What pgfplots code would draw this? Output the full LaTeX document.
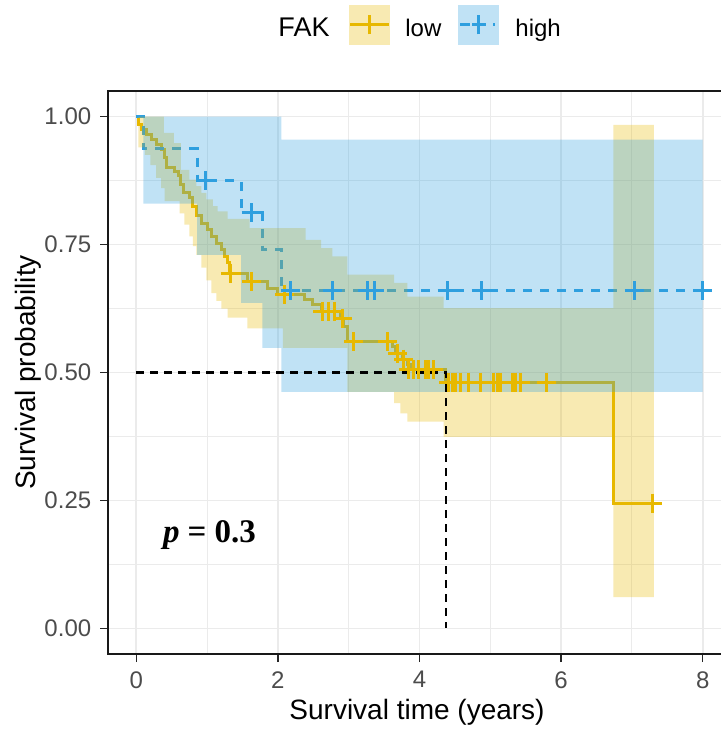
\documentclass[border=0pt]{standalone}
\usepackage{fontspec}
\setmainfont{Liberation Sans}
\newfontfamily\pfont{Liberation Serif}
\usepackage{pgfplots}
\pgfplotsset{compat=1.18}
\usepgfplotslibrary{fillbetween}
\definecolor{fakyellow}{HTML}{E7B800}
\definecolor{fakblue}{HTML}{2E9FDF}

\begin{document}
\begin{tikzpicture}
\begin{axis}[
  name=ax, at={(0,0)}, anchor=south west, set layers,
  scale only axis, width=311.5pt, height=281.5pt,
  xmin=-0.4, xmax=8.4, ymin=-0.05, ymax=1.05,
  xtick={0,2,4,6,8}, minor xtick={1,3,5,7},
  ytick={0,0.25,0.5,0.75,1},
  yticklabels={0.00,0.25,0.50,0.75,1.00},
  minor ytick={0.125,0.375,0.625,0.875},
  grid=both,
  major grid style={draw=black!8, line width=0.9pt},
  minor grid style={draw=black!8, line width=0.45pt},
  axis line style={black!90, line width=0.8pt},
  tick align=outside, tick pos=left,
  major tick length=4pt, minor tick length=0pt,
  tick style={black!85, line width=0.8pt},
  /pgf/number format/assume math mode=true,
  ticklabel style={font=\fontsize{12}{14}\selectfont, text=black!70},
  xticklabel style={anchor=north, inner sep=0pt, yshift=-4.5pt},
  yticklabel style={anchor=east, inner sep=0pt, xshift=-4.2pt},
  xlabel={Survival time (years)},
  ylabel={Survival probability},
  label style={font=\fontsize{14}{16}\selectfont},
  xlabel style={at={(axis description cs:0.496,-0.1172)}, anchor=base},
  ylabel style={at={(axis description cs:-0.1164,0.5)}, anchor=base},
]
% survival curves (under the bands, as in the original)
\addplot[on layer=pre main, fakyellow, line width=1.5pt, const plot] coordinates {
  (0,1) (0.03,0.985) (0.07,0.975) (0.14,0.965) (0.21,0.955) (0.28,0.945)
  (0.35,0.935) (0.40,0.92) (0.42,0.90) (0.54,0.893) (0.59,0.885)
  (0.63,0.867) (0.66,0.851) (0.75,0.841) (0.80,0.825) (0.85,0.806)
  (0.92,0.792) (1.01,0.779) (1.06,0.766) (1.13,0.753) (1.20,0.740)
  (1.24,0.727) (1.29,0.714) (1.31,0.694) (1.57,0.678) (1.85,0.665)
  (2.0,0.652) (2.37,0.642) (2.49,0.632) (2.61,0.62) (2.89,0.605)
  (2.93,0.59) (2.98,0.56) (3.62,0.55) (3.66,0.537) (3.76,0.526)
  (3.83,0.515) (3.87,0.505) (4.37,0.481) (6.74,0.245) (7.29,0.245)};
\addplot[on layer=pre main, fakblue, line width=1.5pt, const plot,
  dash pattern=on 4.5pt off 4pt] coordinates {
  (0,1) (0.1,0.9375) (0.86,0.875) (1.48,0.8125) (1.78,0.74) (2.05,0.66)
  (8.0,0.66)};
% confidence bands
\addplot[name path=yu, draw=none, const plot, forget plot] coordinates {
  (0,1) (0.39,0.968) (0.53,0.948) (0.63,0.896) (0.75,0.877) (0.85,0.864)
  (0.92,0.851) (0.99,0.838) (1.08,0.825) (1.15,0.815) (1.29,0.80)
  (1.6,0.782) (2.39,0.759) (2.61,0.743) (2.77,0.727) (2.98,0.691)
  (3.64,0.675) (3.83,0.648) (4.34,0.626) (6.74,0.984) (7.31,0.984)};
\addplot[name path=yl, draw=none, const plot, forget plot] coordinates {
  (0,1) (0.03,0.94) (0.12,0.925) (0.2,0.905) (0.28,0.88) (0.35,0.86)
  (0.40,0.835) (0.61,0.811) (0.68,0.789) (0.75,0.766) (0.80,0.747)
  (0.85,0.73) (0.92,0.705) (0.99,0.68) (1.06,0.655) (1.13,0.64)
  (1.2,0.625) (1.29,0.607) (1.57,0.586) (2.07,0.548) (2.98,0.462)
  (3.64,0.44) (3.73,0.42) (3.83,0.404) (4.34,0.374) (6.74,0.061)
  (7.31,0.061)};
\addplot[fill=fakyellow, fill opacity=0.3, draw=none] fill between[of=yu and yl];
\addplot[name path=bu, draw=none, const plot, forget plot] coordinates {
  (0,1) (2.05,0.955) (8.0,0.955)};
\addplot[name path=bl, draw=none, const plot, forget plot] coordinates {
  (0,1) (0.1,0.83) (0.86,0.73) (1.48,0.636) (1.78,0.548) (2.05,0.462)
  (8.0,0.462)};
\addplot[fill=fakblue, fill opacity=0.3, draw=none] fill between[of=bu and bl];
% median survival
\addplot[black, line width=1.05pt, dash pattern=on 4pt off 3pt] coordinates {
  (0,0.5) (4.38,0.5) (4.38,0)};
% censoring marks
\addplot[only marks, mark=+, mark size=4.75pt, fakyellow,
  mark options={line width=1.5pt}] coordinates {
  (1.33,0.694) (1.62,0.678) (2.09,0.652) (2.63,0.62) (2.72,0.62)
  (2.80,0.62) (2.91,0.605) (3.07,0.56) (3.55,0.56) (3.69,0.537)
  (3.78,0.526) (3.85,0.505) (3.92,0.505) (3.99,0.505) (4.08,0.505)
  (4.13,0.505) (4.20,0.505) (4.41,0.481) (4.46,0.481) (4.51,0.481)
  (4.58,0.481) (4.69,0.481) (4.86,0.481) (5.05,0.481) (5.10,0.481)
  (5.14,0.481) (5.31,0.481) (5.36,0.481) (5.42,0.481) (5.80,0.481)
  (7.29,0.245)};
\addplot[only marks, mark=+, mark size=4.75pt, fakblue,
  mark options={line width=1.5pt}] coordinates {
  (0.98,0.875) (1.62,0.8125) (2.18,0.66) (2.77,0.66) (3.27,0.66)
  (3.36,0.66) (4.39,0.66) (4.87,0.66) (7.03,0.66) (8.0,0.66)};
\node[anchor=base west, font=\pfont\bfseries\fontsize{16.5}{18}\selectfont]
  at (axis cs:0.28,0.168) {\textit{p}\hspace{4pt}=\hspace{4pt}0.3};
\end{axis}
% legend
\node[anchor=base, font=\fontsize{13.5}{15}\selectfont] at (98pt,308.5pt) {FAK};
\fill[fakyellow, opacity=0.3] (120.7pt,304.5pt) rectangle (141pt,324.5pt);
\draw[fakyellow, line width=1.5pt] (121pt,314.5pt) -- (140.7pt,314.5pt)
  (130.85pt,309.75pt) -- (130.85pt,319.25pt);
\node[anchor=base west, inner sep=0pt, font=\fontsize{12}{14}\selectfont]
  at (148.5pt,308.5pt) {low};
\fill[fakblue, opacity=0.3] (175.2pt,304.5pt) rectangle (195.7pt,324.5pt);
\draw[fakblue, line width=1.5pt] (176pt,314.5pt) -- (181pt,314.5pt)
  (182pt,314.5pt) -- (189pt,314.5pt) (185.45pt,309.75pt) -- (185.45pt,319.25pt)
  (192.5pt,314.5pt) -- (193.7pt,314.5pt);
\node[anchor=base west, inner sep=0pt, font=\fontsize{12}{14}\selectfont]
  at (203.5pt,308.5pt) {high};
\pgfresetboundingbox
\path[use as bounding box] (-54pt,-38.5pt) rectangle (306pt,327pt);
\end{tikzpicture}
\end{document}
